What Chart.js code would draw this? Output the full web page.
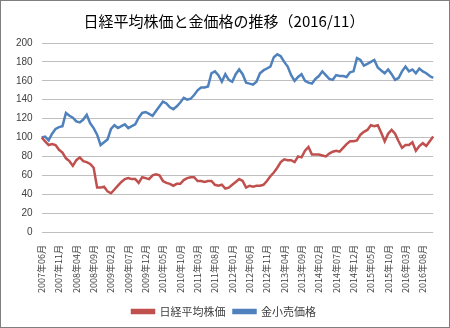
<!DOCTYPE html>
<html>
<head>
<meta charset="utf-8">
<script src="https://cdn.jsdelivr.net/npm/chart.js@4"></script>
<style>
  body { margin: 0; background: #fff; }
  #wrap { width: 448px; height: 326px; border: 1px solid #7f7f7f; }
</style>
</head>
<body>
<div id="wrap"><canvas id="myChart" width="448" height="326"></canvas></div>
<script>
// Data (monthly, 2007/06 - 2016/11, 2007/06 = 100)
const startYear = 2007, startMonth = 6, monthCount = 114;
const nikkei = [
  100, 96, 92, 93, 92, 87, 84, 78, 75, 70,
  76, 79, 75, 74, 72, 68, 47, 47, 48, 43,
  41, 45, 49, 53, 56, 57, 56, 56, 52, 58,
  57, 56, 60, 61, 60, 54, 52, 51, 49, 51,
  51, 55, 57, 58, 58, 54, 54, 53, 54, 54,
  50, 49, 50, 46, 47, 50, 53, 56, 54, 47,
  49, 48, 49, 49, 50, 54, 59, 63, 68, 74,
  77, 76, 76, 74, 80, 79, 86, 90, 82, 82,
  82, 81, 80, 83, 85, 86, 85, 89, 93, 96,
  96, 97, 103, 106, 108, 113, 112, 113, 105, 96,
  104, 108, 104, 96, 89, 92, 92, 95, 86, 91,
  94, 91, 96, 101
];
const gold = [
  100, 101, 97, 104, 109, 111, 112, 126, 123, 121,
  117, 116, 119, 124, 115, 110, 103, 92, 95, 98,
  109, 113, 110, 112, 114, 110, 112, 114, 121, 126,
  127, 125, 123, 128, 133, 138, 136, 132, 130, 133,
  137, 142, 140, 141, 145, 150, 153, 153, 154, 168,
  170, 166, 159, 167, 161, 159, 167, 172, 167, 158,
  157, 156, 159, 168, 171, 173, 175, 185, 188, 186,
  180, 175, 166, 160, 164, 167, 160, 158, 157, 162,
  165, 170, 166, 162, 161, 166, 165, 165, 164, 169,
  170, 184, 182, 176, 178, 180, 182, 174, 171, 168,
  172, 167, 161, 163, 170, 175, 170, 172, 168, 173,
  170, 168, 165, 163
];
const yTicks = [0, 20, 40, 60, 80, 100, 120, 140, 160, 180, 200];

const labels = [];
for (let i = 0; i < monthCount; i++) {
  const m = startMonth - 1 + i;
  const y = startYear + Math.floor(m / 12);
  const mm = (m % 12) + 1;
  labels.push(y + '年' + (mm < 10 ? '0' + mm : mm) + '月');
}

const jp = "'Noto Sans CJK JP', 'Noto Sans', sans-serif";
const num = "'Liberation Sans', 'DejaVu Sans', sans-serif";

const ctx = document.getElementById('myChart');

new Chart(ctx, {
  type: 'line',
  data: {
    labels: labels,
    datasets: [{
      label: '日経平均株価',
      data: nikkei,
      borderColor: '#C0504D',
      backgroundColor: '#C0504D',
      borderWidth: 2.5,
      pointRadius: 0,
      tension: 0
    }, {
      label: '金小売価格',
      data: gold,
      borderColor: '#4F81BD',
      backgroundColor: '#4F81BD',
      borderWidth: 2.5,
      pointRadius: 0,
      tension: 0
    }]
  },
  options: {
    responsive: false,
    animation: false,
    layout: {
      padding: { left: 6, right: 8, top: 4, bottom: 0 }
    },
    scales: {
      y: {
        min: 0,
        max: 200,
        afterBuildTicks: (axis) => { axis.ticks = yTicks.map(v => ({ value: v })); },
        grid: { color: '#bfbfbf', lineWidth: 1, drawTicks: false },
        border: { display: false },
        ticks: { padding: 9, color: '#404040', font: { family: num, size: 10 } }
      },
      x: {
        grid: { display: false },
        border: { display: false },
        ticks: {
          autoSkip: false,
          minRotation: 90,
          maxRotation: 90,
          padding: 5,
          color: '#404040',
          font: { family: jp, size: 9 },
          callback: function (val, i) { return i % 5 === 0 ? this.getLabelForValue(val) : ''; }
        }
      }
    },
    plugins: {
      title: {
        display: true,
        text: '日経平均株価と金価格の推移（2016/11）',
        color: '#000',
        font: { family: jp, size: 15, weight: 'normal' },
        padding: { top: 7, bottom: 13 }
      },
      legend: {
        position: 'bottom',
        labels: {
          boxWidth: 22,
          boxHeight: 3,
          padding: 8,
          color: '#404040',
          font: { family: jp, size: 11 }
        }
      },
      tooltip: { enabled: false }
    }
  }
});
</script>
</body>
</html>
